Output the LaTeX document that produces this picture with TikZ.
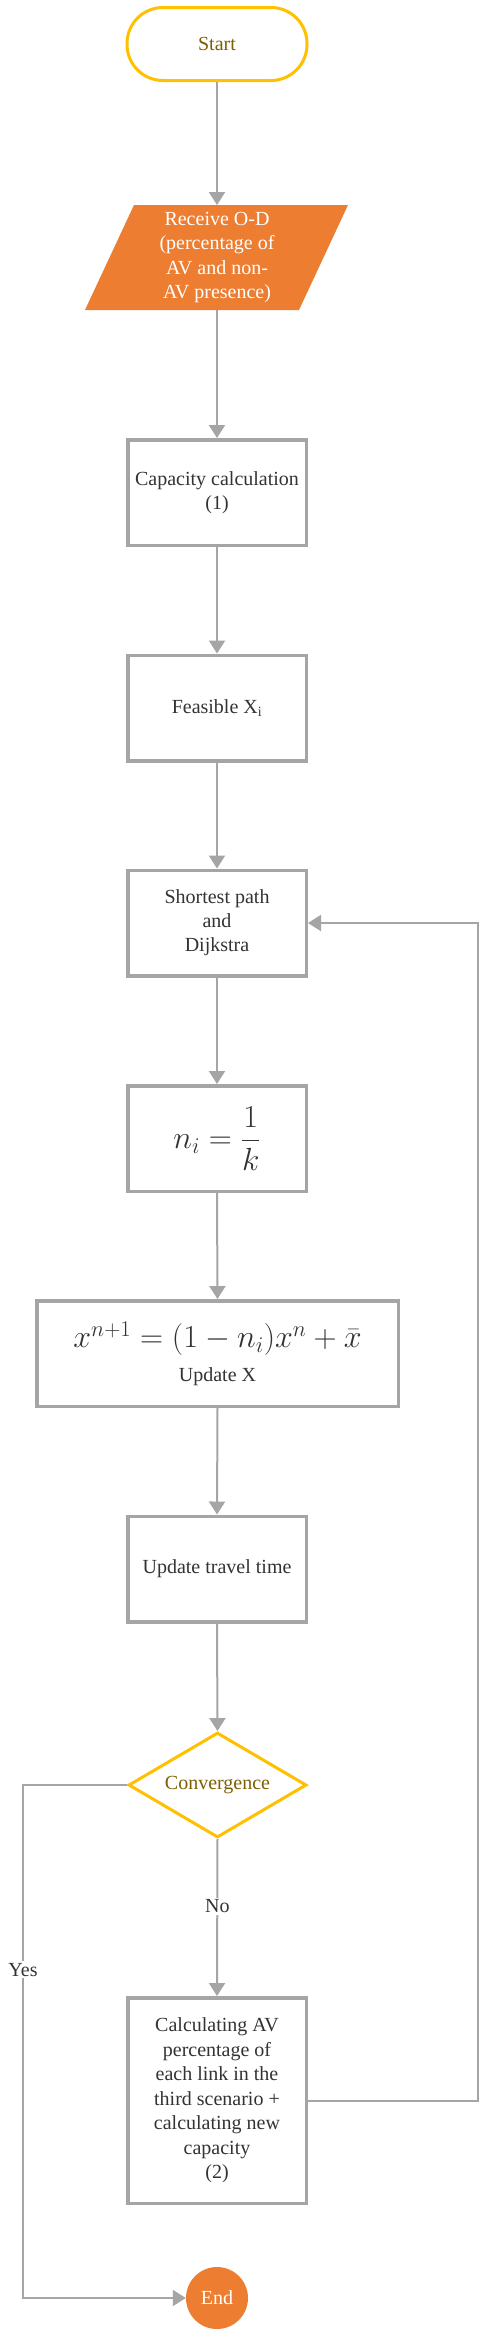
\RequirePackage{fix-cm}
\documentclass[tikz,border=0pt]{standalone}
\usepackage{fontspec}
\setmainfont{Liberation Serif}
\usepackage{amsmath}
\usetikzlibrary{arrows.meta,shapes.geometric}
\definecolor{gold}{HTML}{FFC000}
\definecolor{golddark}{HTML}{7F6000}
\definecolor{orng}{HTML}{ED7D31}
\definecolor{gry}{HTML}{A5A5A5}
\definecolor{txt}{HTML}{333333}
\begin{document}
\begin{tikzpicture}[x=1pt,y=-1pt,
  box/.style={draw=gry, line width=3.5pt, fill=white, minimum width=178.5pt, minimum height=105.5pt,
    align=center, text=txt, font=\fontsize{20}{24.5}\selectfont, inner sep=2pt},
  conn/.style={draw=gry, line width=2pt, -{Triangle[width=16pt,length=13pt]}},
  lbl/.style={fill=white, text=txt, font=\fontsize{20}{24}\selectfont, inner sep=2pt},
  mathsz/.style={font=\fontsize{32}{38}\selectfont}
]
\useasboundingbox (0,0) rectangle (486,2338);
\fill[white] (0,0) rectangle (486,2338);

% Start
\node[draw=gold, line width=3pt, rounded corners=36pt, minimum width=180pt, minimum height=73pt,
  text=golddark, font=\fontsize{20}{25}\selectfont] (start) at (217,44) {Start};

% Input parallelogram
\fill[orng] (134,205) -- (348,205) -- (299,310) -- (85,310) -- cycle;
\node[outer sep=0pt, minimum width=200pt, minimum height=105pt, align=center, text=white,
  font=\fontsize{20}{24.5}\selectfont] (para) at (217,257.5)
  {Receive O-D\\(percentage of\\AV and non-\\AV presence)};

% Process boxes
\node[box] (cap) at (217,492.5) {Capacity calculation\\(1)};
\node[box] (feas) at (217,708) {Feasible X\textsubscript{i}};
\node[box, font=\fontsize{20}{24}\selectfont] (short) at (217,923) {Shortest path\\and\\Dijkstra};
\node[box, mathsz] (ni) at (217,1138.5) {$n_i = \dfrac{1}{k}$};
\node[box, minimum width=361.5pt] (updx) at (217.5,1353.5)
  {\fontsize{32}{38}\selectfont$x^{n+1} = (1-n_i)x^n + \bar{x}$\\[9pt]\fontsize{20}{22}\selectfont Update X};
\node[box] (travel) at (217,1569) {Update travel time};
\node[diamond, draw=gold, line width=3pt, fill=white, aspect=1.676, minimum width=178pt, minimum height=105pt,
  inner sep=1pt, text=golddark, font=\fontsize{20}{25}\selectfont] (dia) at (217.5,1785) {Convergence};
\node[box, minimum height=205.5pt] (calc) at (217,2100.5)
  {Calculating AV\\percentage of\\each link in the\\third scenario +\\calculating new\\capacity\\(2)};
\node[circle, fill=orng, minimum size=62pt, inner sep=0pt, text=white,
  font=\fontsize{20}{25}\selectfont] (endn) at (217,2298) {End};

\coordinate (fbR) at (478,923);
\coordinate (yesL) at (23,1785);

% Connectors
\draw[conn] (start.south) -- (para.north);
\draw[conn] (para.south) -- (cap.north);
\draw[conn] (cap.south) -- (feas.north);
\draw[conn] (feas.south) -- (short.north);
\draw[conn] (short.south) -- (ni.north);
\draw[conn] (ni.south) -- (updx.north);
\draw[conn] (updx.south) -- (travel.north);
\draw[conn] (travel.south) -- (dia.north);
\draw[conn] (dia.south) -- node[lbl, pos=0.43] {No} (calc.north);
\draw[conn] (calc.east) -| (fbR) -- (short.east);
\draw[conn] (dia.west) -- (yesL) |- node[lbl, pos=0.18] {Yes} (endn.west);
\end{tikzpicture}
\end{document}
